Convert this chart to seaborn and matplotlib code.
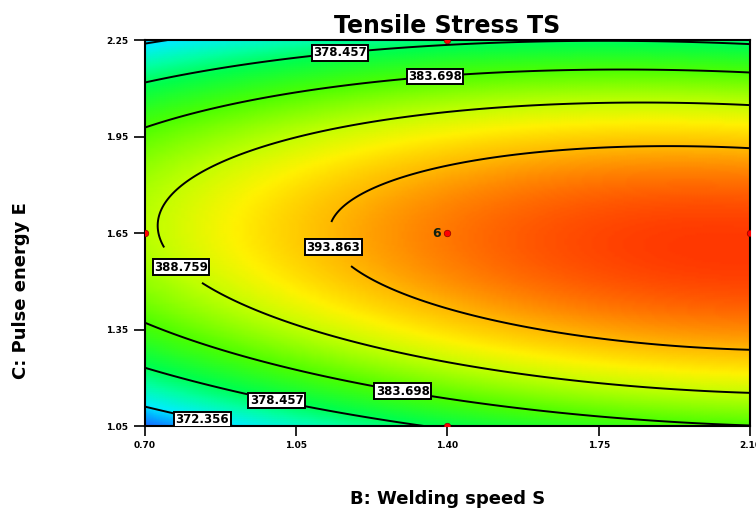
import numpy as np
import pandas as pd
import matplotlib
matplotlib.use("Agg")
import matplotlib.pyplot as plt
from matplotlib.colors import LinearSegmentedColormap
import seaborn as sns

# ---- data ----
title = "Tensile Stress TS"
x_label = "B: Welding speed S"
y_label = "C: Pulse energy E"
x_ticks = [0.70, 1.05, 1.40, 1.75, 2.10]
y_ticks = [1.05, 1.35, 1.65, 1.95, 2.25]

# quadratic response-surface coefficients (coded units), estimated from contour shapes
coef_a = 396.33   # intercept
coef_b = 5.19     # B
coef_bb = -2.86   # B^2
coef_c = -0.75    # C
coef_cc = -18.03  # C^2
coef_bc = -2.23   # BC

contour_levels = [372.356, 378.457, 383.698, 388.759, 393.863]
label_x = [0.84, 1.01, 1.30, 1.15, 1.37, 0.80, 1.145]
label_y = [1.115, 1.162, 1.187, 2.234, 2.157, 1.569, 1.613]

design_x = [1.40, 0.70, 2.10, 1.40, 1.40]
design_y = [2.25, 1.65, 1.65, 1.05, 1.65]
center_count = "6"

# ---- build surface ----
xs = np.linspace(x_ticks[0], x_ticks[-1], 200)
ys = np.linspace(y_ticks[0], y_ticks[-1], 200)
XX, YY = np.meshgrid(xs, ys)
Xc = (XX - 1.40) / 0.70
Yc = (YY - 1.65) / 0.60
Z = (coef_a + coef_b * Xc + coef_bb * Xc**2 + coef_c * Yc + coef_cc * Yc**2
     + coef_bc * Xc * Yc)

sns.set_style("white")
plt.rcParams['font.family'] = ['DejaVu Sans']
plt.rcParams['text.color'] = 'black'
plt.rcParams['axes.labelcolor'] = 'black'
plt.rcParams['xtick.color'] = 'black'
plt.rcParams['ytick.color'] = 'black'

cmap = LinearSegmentedColormap.from_list("de", [
    (0.00, (0.10, 0.40, 1.00)),
    (0.08, (0.00, 0.72, 1.00)),
    (0.13, (0.00, 0.93, 1.00)),
    (0.24, (0.00, 1.00, 0.65)),
    (0.34, (0.00, 1.00, 0.30)),
    (0.50, (0.30, 1.00, 0.00)),
    (0.66, (0.75, 1.00, 0.00)),
    (0.75, (1.00, 0.95, 0.00)),
    (0.84, (1.00, 0.72, 0.00)),
    (1.00, (1.00, 0.22, 0.00)),
])

fig = plt.figure(figsize=(7.56, 5.14), dpi=100)
ax = fig.add_axes([0.1918, 0.1712, 0.8002, 0.7508])
ax.pcolormesh(XX, YY, Z, cmap=cmap, shading="gouraud", rasterized=True)
cs = ax.contour(XX, YY, Z, levels=contour_levels, colors="black", linewidths=1.4)

manual = list(zip(label_x, label_y))
labels = ax.clabel(cs, inline=True, fontsize=8.5, fmt=lambda v: f"{v:.3f}",
                   manual=manual, inline_spacing=2)
for t in labels:
    t.set_rotation(0)
    t.set_fontweight("bold")
    t.set_color("black")
    t.set_bbox(dict(boxstyle="square,pad=0.12", facecolor="white",
                    edgecolor="black", linewidth=1.4))

pts = pd.DataFrame({"x": design_x, "y": design_y})
sns.scatterplot(data=pts, x="x", y="y", ax=ax, color="red", s=22,
                edgecolor="darkred", linewidth=0.5, zorder=5, legend=False)
ax.text(1.385, 1.65, center_count, ha="right", va="center", fontsize=9,
        fontweight="bold", color="#102010", zorder=6)

ax.set_xlim(x_ticks[0], x_ticks[-1])
ax.set_ylim(y_ticks[0], y_ticks[-1])
ax.set_xticks(x_ticks)
ax.set_yticks(y_ticks)
ax.set_xticklabels([f"{v:.2f}" for v in x_ticks], fontsize=6.5, fontweight="bold")
ax.set_yticklabels([f"{v:.2f}" for v in y_ticks], fontsize=6.5, fontweight="bold")
ax.tick_params(axis="x", direction="out", length=7, width=1.2, color="black",
               bottom=True, pad=4)
ax.tick_params(axis="y", direction="out", length=8, width=1.2, color="black",
               left=True, pad=4)
for s in ax.spines.values():
    s.set_visible(True)
    s.set_color("black")
    s.set_linewidth(1.5)

ax.set_title(title, fontsize=17, fontweight="bold", pad=5, color="black")
ax.set_xlabel(x_label, fontsize=13, fontweight="bold")
ax.xaxis.set_label_coords(0.5, -0.165)
ax.set_ylabel(y_label, fontsize=13, fontweight="bold")
ax.yaxis.set_label_coords(-0.19, 0.35)

fig.savefig("out.png", dpi=100)
